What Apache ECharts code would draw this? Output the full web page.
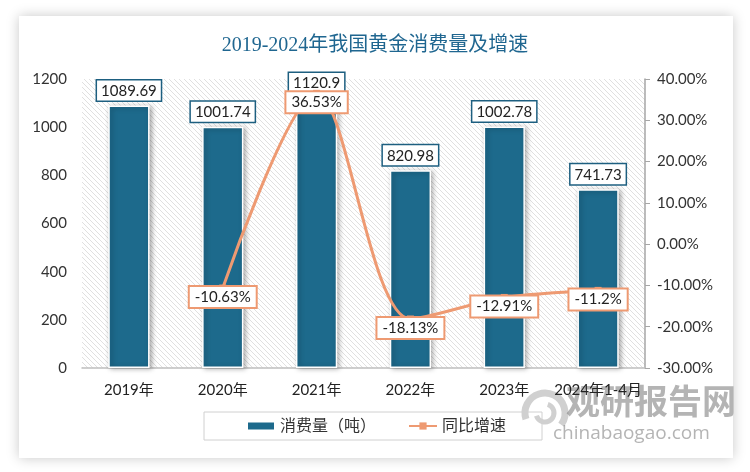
<!DOCTYPE html>
<html><head><meta charset="utf-8">
<script src="https://cdn.jsdelivr.net/npm/echarts@6/dist/echarts.min.js"></script>
<style>html,body{margin:0;padding:0;background:#fff}#c{width:750px;height:472px}</style>
</head><body><div id="c"></div>
<script>
const categories = ['2019年','2020年','2021年','2022年','2023年','2024年1-4月'];
const consumption = [1089.69, 1001.74, 1120.9, 820.98, 1002.78, 741.73];
const growth = [null, -10.63, 36.53, -18.13, -12.91, -11.2];
const growthLabels = ['', '-10.63%', '36.53%', '-18.13%', '-12.91%', '-11.2%'];
const leftTicks = [0, 1200, 200];
const rightTicks = [-30, 40, 10];

const pc = document.createElement('canvas');
pc.width = 5; pc.height = 5;
const g = pc.getContext('2d');
g.fillStyle = '#ffffff'; g.fillRect(0,0,5,5);
g.strokeStyle = '#e0e0e0'; g.lineWidth = 1;
g.beginPath(); g.moveTo(-1,-1); g.lineTo(6,6); g.stroke();
g.beginPath(); g.moveTo(-1,4); g.lineTo(1,6); g.stroke();
g.beginPath(); g.moveTo(4,-1); g.lineTo(6,1); g.stroke();

const FONT = "Lato, 'Noto Sans CJK SC', sans-serif";
const chart = echarts.init(document.getElementById('c'), null, {renderer:'canvas'});
chart.setOption({
  backgroundColor: '#ffffff',
  animation: false,
  title: {
    text: '2019-2024年我国黄金消费量及增速',
    left: 'center', top: 31,
    textStyle: {color: '#1f6690', fontSize: 20, fontWeight: 'normal', fontFamily: "'Liberation Serif', 'Noto Sans CJK SC', serif"}
  },
  graphic: [
    {type:'rect', z:-10, silent:true, shape:{x:19,y:16,width:714,height:442},
     style:{fill:'#ffffff', shadowBlur:12, shadowColor:'rgba(0,0,0,0.22)'}},
    {type:'arc', z:-5, silent:true, shape:{cx:545, cy:413, r:20, startAngle:Math.PI*0.9, endAngle:Math.PI*2.2},
     style:{stroke:'rgba(150,150,150,0.45)', lineWidth:7, fill:null}},
    {type:'arc', z:-5, silent:true, shape:{cx:545, cy:413, r:9, startAngle:Math.PI*1.6, endAngle:Math.PI*2.9},
     style:{stroke:'rgba(150,150,150,0.45)', lineWidth:5, fill:null}},
    {type:'text', z:-5, silent:true, left:566, top:384,
     style:{text:'观研报告网', fill:'rgba(130,130,130,0.6)', fontSize:34, fontWeight:'bold', fontFamily:"'Noto Sans CJK SC', sans-serif"}},
    {type:'text', z:-5, silent:true, left:553, top:424,
     style:{text:'chinabaogao.com', fill:'rgba(130,130,130,0.6)', fontSize:19, fontFamily:"'Open Sans', sans-serif"}}
  ],
  grid: {left:82, right:105, top:79, bottom:104, show:true, borderWidth:0,
         backgroundColor: {image: pc, repeat: 'repeat'}},
  legend: {
    left: 204, top: 412,
    padding: [6, 36, 6, 42],
    borderColor: '#d0d0d0', borderWidth: 1,
    itemGap: 32,
    textStyle: {fontSize: 16, color: '#333', fontFamily: FONT},
    data: [
      {name:'消费量（吨）', icon:'rect', itemStyle:{color:'#1d6a8c'}},
      {name:'同比增速'}
    ],
    itemWidth: 28, itemHeight: 9
  },
  xAxis: {
    type: 'category', data: categories,
    axisLine: {lineStyle:{color:'#bfbfbf', width:1.5}},
    axisTick: {show:false},
    axisLabel: {color:'#222', fontSize:15, margin:15, fontFamily: FONT, interval:0}
  },
  yAxis: [
    {type:'value', min:leftTicks[0], max:leftTicks[1], interval:leftTicks[2],
     axisLine:{show:false}, axisTick:{show:false}, splitLine:{show:false},
     axisLabel:{color:'#333', fontSize:15, margin:15, fontFamily: FONT, formatter: v => String(v)}},
    {type:'value', min:rightTicks[0], max:rightTicks[1], interval:rightTicks[2], position:'right',
     axisLine:{show:true, lineStyle:{color:'#a6a6a6', width:1.5}},
     axisTick:{show:true, length:5, lineStyle:{color:'#a6a6a6'}}, splitLine:{show:false},
     axisLabel:{color:'#333', fontSize:15, margin:12, fontFamily: FONT,
       formatter: v => v.toFixed(2) + '%'}}
  ],
  series: [
    {name:'消费量（吨）', type:'bar', data: consumption, barWidth: '44%',
     itemStyle:{color:'#1d6a8c', borderColor:'#ffffff', borderWidth:1.5,
       shadowColor:'rgba(0,0,0,0.35)', shadowBlur:5, shadowOffsetX:2, shadowOffsetY:1},
     label:{show:true, position:'top', distance:5, color:'#222', fontSize:15, fontFamily: FONT,
       backgroundColor:'#ffffff', borderColor:'#1d5f80', borderWidth:1.5, padding:[3,4,2,4]}},
    {name:'同比增速', type:'line', yAxisIndex:1, data: growth, smooth:0.3,
     symbol:'rect', symbolSize:7, connectNulls:false,
     lineStyle:{color:'#ee9a72', width:3},
     itemStyle:{color:'#ee9a72'},
     label:{show:true, position:'inside', offset:[0,9], color:'#222', fontSize:15, fontFamily: FONT,
       backgroundColor:'#ffffff', borderColor:'#ee9a72', borderWidth:2, padding:[3,5,2,5],
       formatter: p => growthLabels[p.dataIndex]}}
  ]
});
</script></body></html>
